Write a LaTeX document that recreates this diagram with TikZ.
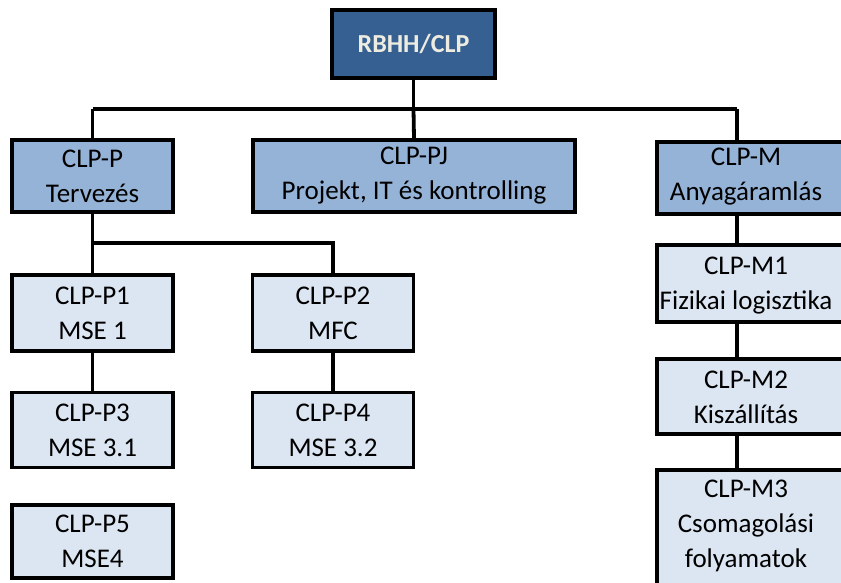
\documentclass[tikz,border=0pt]{standalone}
\usepackage{fontspec}
\setmainfont{Carlito}
\definecolor{topfill}{HTML}{376092}
\definecolor{toptext}{HTML}{EEECE1}
\definecolor{midfill}{HTML}{95B3D7}
\definecolor{lowfill}{HTML}{DCE6F2}
\tikzset{
  unit/.style={draw=black, line width=3.8pt, inner sep=0pt, align=center,
    font=\fontsize{27}{35}\selectfont},
  headbox/.style={unit, fill=topfill, text=toptext, font=\fontsize{26}{35}\selectfont\bfseries},
  deptbox/.style={unit, fill=midfill},
  teambox/.style={unit, fill=lowfill},
  label/.style={inner sep=0pt, align=center, font=\fontsize{27}{35}\selectfont},
  link/.style={draw=black, line width=3.8pt},
}
\begin{document}
\begin{tikzpicture}[x=1pt,y=-1pt]
\useasboundingbox (0,0) rectangle (841,583);
\clip (0,0) rectangle (841,583);

% top level
\node[headbox, minimum width=163pt, minimum height=68pt] (root) at (413.5,44) {RBHH/CLP};

% departments
\node[deptbox, minimum width=161pt, minimum height=72pt] (P) at (92.5,176) {CLP-P\\Tervezés};
\node[deptbox, minimum width=322pt, minimum height=72pt] (PJ) at (414,176) {CLP-PJ\\Projekt, IT és kontrolling};
\node[deptbox, minimum width=240pt, minimum height=72pt, anchor=north west] (M) at (655,140) {};
\node[label] (Mt) at (746,177) {CLP-M\\Anyagáramlás};

% planning teams
\node[teambox, minimum width=161pt, minimum height=76pt] (P1) at (92.5,313) {CLP-P1\\MSE 1};
\node[teambox, minimum width=161pt, minimum height=76pt] (P2) at (333,313) {CLP-P2\\MFC};
\node[teambox, minimum width=161pt, minimum height=75pt] (P3) at (92.5,430) {CLP-P3\\MSE 3.1};
\node[teambox, minimum width=161pt, minimum height=75pt] (P4) at (333,430) {CLP-P4\\MSE 3.2};
\node[teambox, minimum width=161pt, minimum height=73pt] (P5) at (92.5,541.5) {CLP-P5\\MSE4};

% material flow teams
\node[teambox, minimum width=240pt, minimum height=77pt, anchor=north west] (M1) at (655,243) {};
\node[label] (M1t) at (746,286) {CLP-M1\\Fizikai logisztika};
\node[teambox, minimum width=240pt, minimum height=75pt, anchor=north west] (M2) at (655,357) {};
\node[label] (M2t) at (746,397) {CLP-M2\\Kiszállítás};
\node[teambox, minimum width=240pt, minimum height=140pt, anchor=north west] (M3) at (655,468) {};
\node[label] (M3t) at (746,526) {CLP-M3\\Csomagolási\\folyamatok};

% connectors
\coordinate (busL) at (92.5,109);
\coordinate (busR) at (737,109);
\coordinate (pbar) at (0,243);
\path[link] (root.south) -- (root.south |- busL);
\path[link] (busL) -- (busR);
\path[link] (busL) -- (P.north);
\path[link] (root.south |- busL) -- (PJ.north);
\path[link] (busR) -- (busR |- M.north);
\path[link] (P.south) -- (P1.north);
\path[link] (P.south |- pbar) -| (P2.north);
\path[link] (P1.south) -- (P3.north);
\path[link] (P2.south) -- (P4.north);
\path[link] (busR |- M.south) -- (busR |- M1.north);
\path[link] (busR |- M1.south) -- (busR |- M2.north);
\path[link] (busR |- M2.south) -- (busR |- M3.north);
\end{tikzpicture}
\end{document}
